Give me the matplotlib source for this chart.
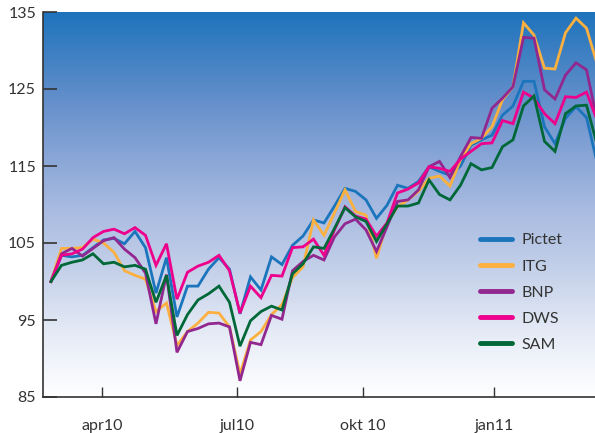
import numpy as np
import matplotlib
matplotlib.use("Agg")
import matplotlib.pyplot as plt
from matplotlib.colors import LinearSegmentedColormap

plt.rcParams['font.family'] = ['Lato', 'DejaVu Sans']

series_names = ["Pictet", "ITG", "BNP", "DWS", "SAM"]
series_colors = ["#1B75BC", "#FBB040", "#92278F", "#EC008C", "#006838"]

pictet = [100.0, 103.4, 103.2, 103.4, 104.4, 105.4, 105.6, 104.9, 106.5, 104.4,
          98.5, 103.1, 95.4, 99.4, 99.4, 101.6, 103.1, 101.6, 95.8, 100.6,
          98.9, 103.2, 102.2, 104.7, 105.9, 108.0, 107.6, 109.8, 112.1, 111.7,
          110.6, 108.2, 109.9, 112.5, 112.1, 113.0, 114.9, 114.3, 113.8, 115.0,
          117.7, 118.4, 119.0, 121.6, 122.8, 126.0, 126.0, 120.1, 117.9, 121.2,
          122.7, 121.3, 115.5]
itg = [100.0, 104.3, 104.3, 104.4, 105.5, 105.0, 103.8, 101.4, 100.8, 100.3,
       96.1, 97.2, 91.7, 93.5, 94.6, 96.0, 95.9, 94.1, 88.0, 92.4,
       93.5, 95.7, 97.0, 100.5, 101.9, 108.0, 106.0, 108.9, 111.9, 109.1,
       108.6, 103.0, 107.6, 109.7, 110.6, 111.7, 113.4, 113.7, 112.4, 115.8,
       117.9, 118.6, 120.1, 123.6, 125.3, 133.6, 132.0, 127.7, 127.6, 132.3,
       134.2, 132.9, 128.3]
bnp = [100.0, 103.6, 104.3, 103.3, 104.3, 105.3, 105.7, 104.2, 103.1, 101.1,
       94.5, 100.9, 90.8, 93.5, 93.9, 94.5, 94.6, 94.1, 87.1, 92.1,
       91.8, 95.6, 95.1, 101.4, 102.6, 103.4, 102.8, 105.8, 107.5, 108.1,
       106.7, 103.9, 107.1, 110.4, 110.6, 111.9, 114.9, 115.6, 113.5, 116.2,
       118.7, 118.6, 122.5, 123.8, 125.3, 131.7, 131.6, 124.9, 123.7, 126.8,
       128.4, 127.5, 121.0]
dws = [100.0, 103.4, 103.6, 104.2, 105.7, 106.5, 106.8, 106.2, 107.0, 106.0,
       102.1, 104.9, 97.7, 101.2, 102.0, 102.5, 103.4, 101.4, 95.9, 99.4,
       97.9, 100.8, 100.7, 104.4, 104.5, 105.5, 103.4, 106.7, 109.7, 108.5,
       108.1, 105.9, 107.6, 111.5, 112.0, 112.8, 114.9, 114.7, 114.3, 115.9,
       116.9, 117.9, 118.0, 120.9, 120.5, 124.6, 123.8, 121.8, 120.5, 124.0,
       123.9, 124.6, 121.0]
sam = [100.0, 102.1, 102.5, 102.8, 103.6, 102.3, 102.5, 101.9, 102.1, 101.6,
       97.3, 100.8, 93.0, 95.7, 97.6, 98.4, 99.4, 97.3, 91.6, 94.9,
       96.1, 96.8, 96.3, 101.0, 102.3, 104.5, 104.3, 106.9, 109.6, 108.4,
       107.8, 105.2, 107.5, 109.8, 109.8, 110.2, 113.2, 111.3, 110.6, 112.5,
       115.3, 114.5, 114.8, 117.5, 118.4, 122.8, 124.1, 118.2, 116.9, 121.8,
       122.8, 122.9, 117.8]

tick_labels = ["apr10", "jul10", "okt 10", "jan11"]
tick_positions = [4.86, 17.71, 29.71, 42.19]   # in weekly-index units
y_ticks = [85, 95, 105, 115, 125, 135]

all_series = [pictet, itg, bnp, dws, sam]

fig = plt.figure(figsize=(5.95, 4.33), dpi=100)
ax = fig.add_axes([43/595, 1 - 397/433, 1 - 43/595, (397 - 12)/433])

# gradient background
cmap = LinearSegmentedColormap.from_list("bg", [
    (0.0, "#1E73BC"),
    (0.25, "#6A92CC"),
    (0.5, "#A6B9E0"),
    (0.68, "#C6D2EA"),
    (0.85, "#E8EDF7"),
    (1.0, "#FFFFFF")])
grad = np.linspace(0, 1, 256).reshape(-1, 1)
ax.imshow(grad, extent=[0, 1, 0, 1], transform=ax.transAxes, aspect='auto',
          cmap=cmap, origin='upper', zorder=0)

x = np.arange(len(pictet))
for name, col, vals in zip(series_names, series_colors, all_series):
    ax.plot(x, vals, color=col, lw=2.0, label=name, zorder=3, solid_joinstyle='miter')

ax.set_xlim(-0.76, 51.81)
ax.set_ylim(85, 135)

for s in ['top', 'right']:
    ax.spines[s].set_visible(False)
for s in ['left', 'bottom']:
    ax.spines[s].set_color('#333333')
    ax.spines[s].set_linewidth(1.2)
    ax.spines[s].set_zorder(5)

ax.set_yticks(y_ticks)
ax.set_yticklabels([str(v) for v in y_ticks])
ax.set_xticks(tick_positions)
ax.set_xticklabels(tick_labels)
ax.tick_params(axis='y', direction='in', length=10, width=1.2, color='#333333',
               labelsize=11.5, labelcolor='#333333', pad=5)
ax.tick_params(axis='x', direction='in', length=7, width=1.0, color='#333333',
               labelsize=11.5, labelcolor='#333333', pad=16)

leg = ax.legend(loc='upper left', bbox_to_anchor=(0.78, 0.442), frameon=False,
                fontsize=11.5, handlelength=2.0, handletextpad=0.6,
                labelspacing=0.75, borderaxespad=0)
for line in leg.get_lines():
    line.set_linewidth(3.5)
    line.set_solid_capstyle('round')
for t in leg.get_texts():
    t.set_color('#333333')

fig.savefig("out.png", dpi=100)
